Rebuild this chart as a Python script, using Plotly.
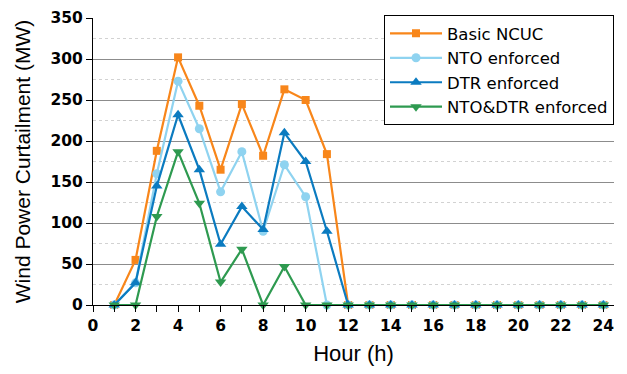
import plotly.graph_objects as go

hours = list(range(1, 25))
basic_ncuc = [0, 55, 188, 302, 243, 165, 245, 182, 263, 250, 184, 0] + [0] * 12
nto_enforced = [0, 27, 160, 273, 215, 138, 187, 90, 171, 132, 0, 0] + [0] * 12
dtr_enforced = [0, 27, 145, 232, 165, 74, 120, 92, 210, 175, 90, 0] + [0] * 12
nto_dtr_enforced = [0, 0, 108, 187, 124, 28, 68, 0, 47, 0, 0, 0] + [0] * 12

series = [
    ("Basic NCUC", basic_ncuc, "#F8861A", "square", 8),
    ("NTO enforced", nto_enforced, "#8FD3F0", "circle", 9),
    ("DTR enforced", dtr_enforced, "#0B7BC0", "triangle-up", 10),
    ("NTO&DTR enforced", nto_dtr_enforced, "#2E9A50", "triangle-down", 10),
]

fig = go.Figure()
# empty helper trace so the grid axis is drawn
fig.add_trace(go.Scatter(x=[], y=[], yaxis="y2", showlegend=False, hoverinfo="skip"))
for name, vals, color, sym, size in series:
    fig.add_trace(go.Scatter(
        x=hours, y=vals, name=name, mode="lines+markers",
        line=dict(color=color, width=2.2),
        marker=dict(symbol=sym, size=size, color=color),
        cliponaxis=False,
    ))

font_family = "Liberation Sans, Arial, sans-serif"
tick_family = "DejaVu Sans, Liberation Sans, sans-serif"

fig.update_layout(
    width=627, height=374,
    margin=dict(l=93, r=13, t=18, b=69),
    plot_bgcolor="white", paper_bgcolor="white",
    font=dict(family=font_family, color="black"),
    showlegend=True,
    legend=dict(
        x=1.0, xanchor="right", y=1.01, yanchor="top",
        bordercolor="black", borderwidth=1, bgcolor="white",
        font=dict(size=16.5, family=tick_family),
        tracegroupgap=0, itemwidth=52,
    ),
    xaxis=dict(
        range=[0, 24.5], dtick=2, tick0=0, automargin=False,
        showline=True, linecolor="black", linewidth=1,
        ticks="outside", ticklen=6, tickcolor="black",
        minor=dict(dtick=1, ticks="outside", ticklen=6, tickcolor="black"),
        showgrid=False, zeroline=False,
        tickfont=dict(size=15.5, weight="bold", family=tick_family),
        title=dict(text="Hour (h)", font=dict(size=22, family=font_family), standoff=12),
    ),
    yaxis=dict(
        range=[0, 350], dtick=50, tick0=0, automargin=False,
        showline=True, linecolor="black", linewidth=1,
        ticks="outside", ticklen=6, tickcolor="black",
        showgrid=False, zeroline=False,
        tickfont=dict(size=15.5, weight="bold", family=tick_family),
        title=dict(text="Wind Power Curtailment (MW)", font=dict(size=21, family=font_family), standoff=14),
    ),
    yaxis2=dict(
        overlaying="y", range=[0, 350], automargin=False,
        tickvals=[50, 100, 150, 200, 250, 300],
        showticklabels=False, ticks="",
        showgrid=True, gridcolor="#8c8c8c", gridwidth=1, griddash="solid",
        zeroline=False, showline=False,
        minor=dict(tickvals=[25, 75, 125, 175, 225, 275, 325], showgrid=True,
                   griddash="dot", gridcolor="#d2d2d2", gridwidth=1),
        layer="below traces",
    ),
)

fig.write_html("out.html", config={"displayModeBar": False},
               post_script="document.body.style.margin='0px';")
